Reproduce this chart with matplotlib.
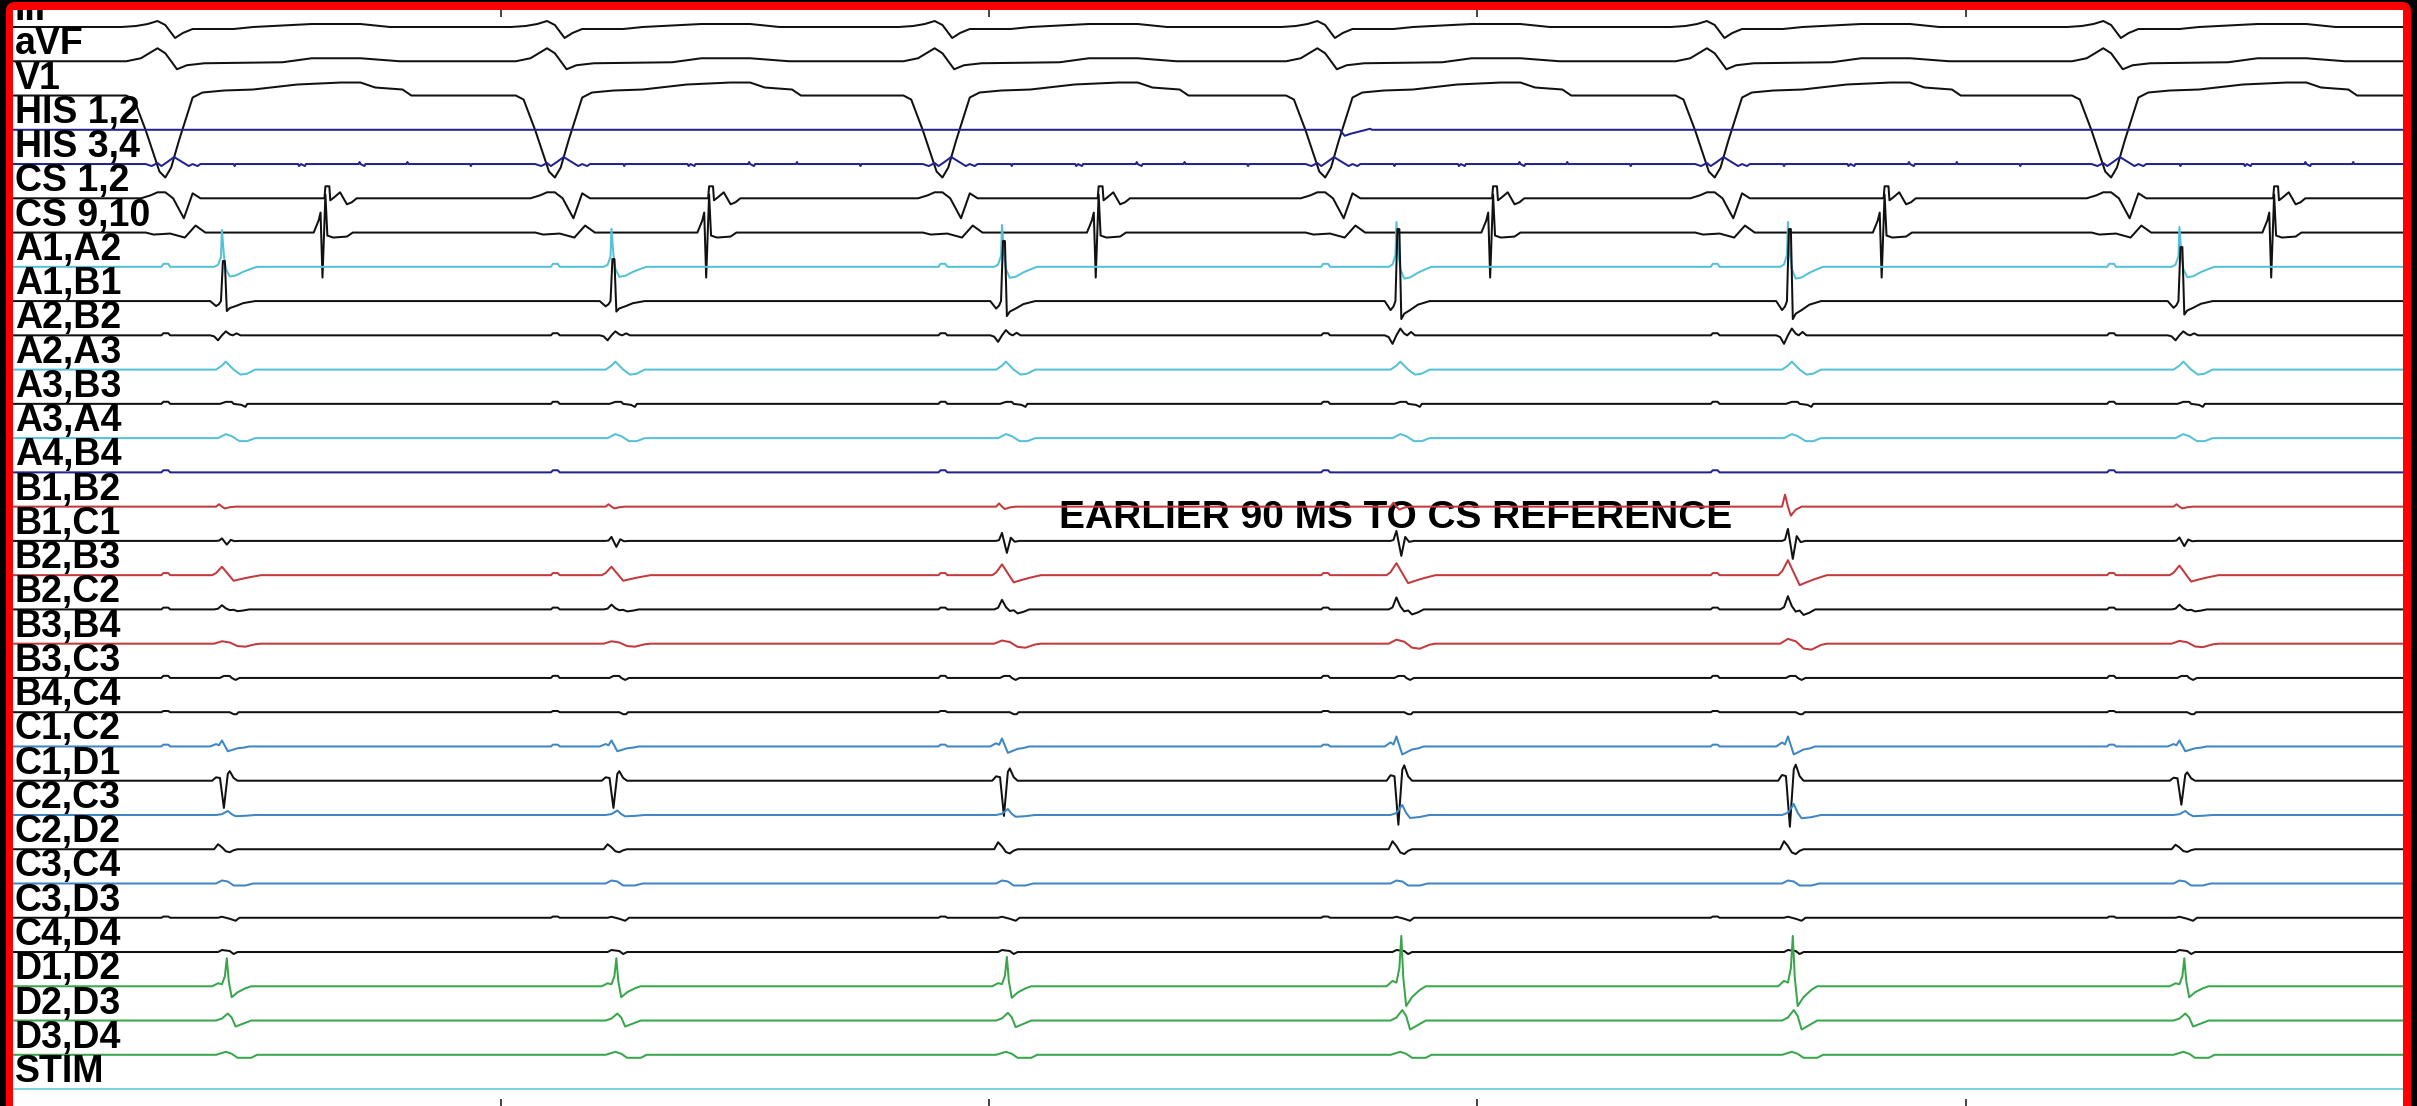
import numpy as np
import matplotlib.pyplot as plt
from matplotlib.patches import FancyBboxPatch
from matplotlib.transforms import IdentityTransform

plt.rcParams["font.family"] = ["Liberation Sans", "DejaVu Sans"]

LABELS = ["III", "aVF", "V1", "HIS 1,2", "HIS 3,4", "CS 1,2", "CS 9,10",
          "A1,A2", "A1,B1", "A2,B2", "A2,A3", "A3,B3", "A3,A4", "A4,B4",
          "B1,B2", "B1,C1", "B2,B3", "B2,C2", "B3,B4", "B3,C3", "B4,C4",
          "C1,C2", "C1,D1", "C2,C3", "C2,D2", "C3,C4", "C3,D3", "C4,D4",
          "D1,D2", "D2,D3", "D3,D4", "STIM"]

# sweep timing (ms)
SWEEP_MS = 2448
TICKS_MS = [500, 1000, 1500, 2000]
V_TIMES = [156, 555, 952, 1344, 1743, 2149]      # surface QRS, V1 nadir
MAP_TIMES = [214, 613, 1013, 1417, 1818, 2219]   # mapping catheter activation
CS_TIMES = [320, 713, 1112, 1516, 1917, 2316]    # CS reference spike

# waveform shapes: (offset ms, deflection, + is up)
III_QRS = [(-45, 0), (-30, 1), (-18, 3), (-8, 6), (0, 2), (10, -11), (18, -6),
           (28, -2), (70, -2), (90, 0), (150, 3), (200, 3), (230, 0)]
AVF_QRS = [(-40, 0), (-25, 3), (-8, 13), (0, 8), (12, -8), (22, -4), (40, -2),
           (120, -1), (150, 3), (200, 3), (240, 0)]
V1_QRS = [(-40, 0), (-32, -4), (-20, -35), (-6, -76), (0, -82), (6, -72),
          (14, -45), (28, -2), (38, 3), (60, 5), (90, 6), (135, 11), (180, 13),
          (200, 13), (215, 8), (243, 6), (252, 0)]
HIS12_QRS = [(15, 0), (20, -6), (26, -4), (34, -2), (46, 1), (48, 0)]
HIS34_QRS = [(-20, 0), (-14, -2), (-8, 1), (-4, -2), (2, 2), (9, 7), (14, 4),
             (19, 1), (24, -2), (28, 0), (33, -2), (36, 0), (70, 0), (71, -2),
             (72, 0), (136, 0), (137, -2), (139, 0), (143, -2), (144, 0),
             (198, 0), (199, 2), (200, 0), (204, -2), (205, 0), (247, 0),
             (248, 2), (249, 0), (312, 0), (313, -2), (314, 0)]
CS12_QRS = [(-25, 0), (-15, 3), (-8, 6), (0, 6), (8, 0), (19, -20), (28, 5), (36, 0)]
CS12_REF = [(-1, 0), (0, 12), (4, 12), (5, -2), (9, 1), (15, 6), (22, -6),
            (27, -4), (32, 0)]
CS910_QRS = [(-20, 0), (-12, -2), (5, -1), (20, -5), (31, 7), (41, 0)]
CS910_REF = [(-12, 0), (-7, 12), (-5, 20), (-3, -45), (0, 38), (2, -3), (8, -5),
             (22, -4), (28, 0)]
FAR_FIELD = [(-4, 0), (-2, 3), (3, 3), (5, 0)]

A1A2 = [(-8, 0), (-4, 2), (-1, 10), (0, 38), (2, 12), (4, -2), (8, -10),
        (14, -9), (22, -5), (30, -2), (36, 0)]
A1B1 = [(-12, 0), (-6, -5), (-3, -3), (-1, 0), (1, 40), (3, 40), (5, -10),
        (8, -7), (14, -5), (22, -2), (34, 0)]
A2B2 = [(-12, 0), (-8, -1), (-4, -5), (0, 0), (4, 4), (8, 1), (11, 0), (15, 2), (19, 0)]
A2A3 = [(-6, 0), (0, 4), (4, 8), (8, 4), (12, 0), (19, -5), (26, -4), (34, 0)]
A3B3 = [(-2, 0), (4, 2), (10, 2), (12, 0), (20, -1), (24, -3), (26, 0)]
A3A4 = [(-4, 0), (4, 4), (10, 2), (18, -3), (26, -3), (34, 0)]
B1B2 = [(-6, 0), (-3, 4), (0, 0), (3, -3), (8, -1), (14, 0)]
B1C1 = [(-6, 0), (-3, 1), (0, 10), (5, -15), (9, 4), (13, -1), (18, 0)]
B2B3 = [(-10, 0), (-6, 3), (0, 12), (6, 2), (12, -8), (18, -6), (28, -3), (40, 0)]
B2C2 = [(-8, 0), (-4, 2), (0, 12), (4, 3), (8, -2), (12, -1), (16, -5), (22, -3), (28, 0)]
B3B4 = [(-8, 0), (0, 4), (8, 2), (16, -4), (24, -5), (34, -1), (40, 0)]
B3C3 = [(-2, 0), (2, 2), (8, 2), (10, 0), (14, -2), (18, 0)]
B4C4 = [(8, 0), (12, -2), (15, -2), (17, 0)]
C1C2 = [(-12, 0), (-6, 4), (-3, 2), (0, 10), (6, -8), (10, -6), (16, -3), (22, -2), (28, 0)]
C1D1 = [(-10, 0), (-6, 5), (-2, 4), (2, -40), (6, 10), (8, 14), (12, 4), (16, 0)]
C2C3 = [(-6, 0), (0, 2), (6, 10), (10, 2), (14, -3), (24, -2), (34, 0)]
C2D2 = [(-8, 0), (-4, 5), (0, 2), (4, -2), (8, -3), (12, -1), (16, 0)]
C3C4 = [(-6, 0), (0, 3), (6, 2), (12, -2), (24, -2), (32, 0)]
C3D3 = [(-4, 0), (0, 1), (8, -1), (14, -3), (18, 0)]
C4D4 = [(-4, 0), (0, 2), (8, 1), (12, -2), (16, 0)]
D1D2 = [(-10, 0), (-4, 3), (0, 2), (3, 10), (5, 28), (7, 5), (10, -11), (16, -6),
        (24, -2), (30, 0)]
D2D3 = [(-6, 0), (0, 2), (6, 7), (10, 3), (14, -6), (22, -3), (30, 0)]
D3D4 = [(-6, 0), (4, 3), (10, 1), (16, -3), (30, -3), (36, 0)]

# beat-to-beat amplitude scaling
HIS12_GAIN = [0, 0, 0, 1, 0, 0]
A1A2_GAIN = [0.97, 1.0, 1.1, 1.18, 1.18, 1.05]
A1B1_GAIN = [1.0, 1.05, 1.5, 1.8, 1.8, 1.35]
A2B2_GAIN = [1, 1, 1.3, 1.7, 1.7, 1]
B1B2_GAIN = [0.6, 0.6, 0.8, 1, 3, 0.6]
B1C1_GAIN = [0.25, 0.4, 0.8, 1, 1.2, 0.35]
B2B3_GAIN = [0.7, 0.7, 0.9, 1, 1.25, 0.8]
B2C2_GAIN = [0.35, 0.4, 0.8, 1, 1.1, 0.4]
B3B4_GAIN = [0.6, 0.6, 0.8, 1, 1.2, 0.7]
C1C2_GAIN = [0.6, 0.6, 0.8, 1, 1, 0.6]
C1D1_GAIN = [0.68, 0.68, 0.88, 1.1, 1.15, 0.6]
C2C3_GAIN = [0.4, 0.45, 0.6, 1, 1.1, 0.4]
C2D2_GAIN = [1, 1, 1.4, 1.6, 1.6, 0.9]
D1D2_GAIN = [1, 1, 1.05, 1.8, 1.8, 1]
D2D3_GAIN = [1, 1, 1.1, 1.5, 1.5, 1]
FAR_FIELD_GAIN = {7: 1.0, 9: 0.7, 11: 0.7, 13: 0.7, 16: 0.7, 17: 0.6,
                  19: 0.7, 20: 0.4, 21: 0.6, 26: 0.4}

BLACK, NAVY, CYAN, RED = "#111111", "#22228c", "#55c1d6", "#c23a3c"
BLUE, GREEN, STIM_CYAN = "#3f86c2", "#3aa64c", "#7fd3de"
COLORS = [BLACK, BLACK, BLACK, NAVY, NAVY, BLACK, BLACK,
          CYAN, BLACK, BLACK, CYAN, BLACK, CYAN, NAVY,
          RED, BLACK, RED, BLACK, RED, BLACK, BLACK,
          BLUE, BLACK, BLUE, BLACK, BLUE, BLACK, BLACK,
          GREEN, GREEN, GREEN, STIM_CYAN]

EVENTS = {
    0: [(V_TIMES, III_QRS, None)],
    1: [(V_TIMES, AVF_QRS, None)],
    2: [(V_TIMES, V1_QRS, None)],
    3: [(V_TIMES, HIS12_QRS, HIS12_GAIN)],
    4: [(V_TIMES, HIS34_QRS, None)],
    5: [(V_TIMES, CS12_QRS, None), (CS_TIMES, CS12_REF, None)],
    6: [(V_TIMES, CS910_QRS, None), (CS_TIMES, CS910_REF, None)],
    7: [(MAP_TIMES, A1A2, A1A2_GAIN)],
    8: [(MAP_TIMES, A1B1, A1B1_GAIN)],
    9: [(MAP_TIMES, A2B2, A2B2_GAIN)],
    10: [(MAP_TIMES, A2A3, None)],
    11: [(MAP_TIMES, A3B3, None)],
    12: [(MAP_TIMES, A3A4, None)],
    13: [],
    14: [(MAP_TIMES, B1B2, B1B2_GAIN)],
    15: [(MAP_TIMES, B1C1, B1C1_GAIN)],
    16: [(MAP_TIMES, B2B3, B2B3_GAIN)],
    17: [(MAP_TIMES, B2C2, B2C2_GAIN)],
    18: [(MAP_TIMES, B3B4, B3B4_GAIN)],
    19: [(MAP_TIMES, B3C3, None)],
    20: [(MAP_TIMES, B4C4, None)],
    21: [(MAP_TIMES, C1C2, C1C2_GAIN)],
    22: [(MAP_TIMES, C1D1, C1D1_GAIN)],
    23: [(MAP_TIMES, C2C3, C2C3_GAIN)],
    24: [(MAP_TIMES, C2D2, C2D2_GAIN)],
    25: [(MAP_TIMES, C3C4, None)],
    26: [(MAP_TIMES, C3D3, None)],
    27: [(MAP_TIMES, C4D4, None)],
    28: [(MAP_TIMES, D1D2, D1D2_GAIN)],
    29: [(MAP_TIMES, D2D3, D2D3_GAIN)],
    30: [(MAP_TIMES, D3D4, None)],
    31: [],
}

NOTE = "EARLIER 90 MS TO CS REFERENCE"
NOTE_AT_MS = 1071

# page geometry in output pixels
W, H = 2417, 1106
PLOT_L, PLOT_R, PLOT_T = 13, 2403, 10
ROW0, PITCH = 27.0, 34.26


def build_trace(events):
    pts = [(0.0, 0.0), (float(SWEEP_MS), 0.0)]
    for times, shape, gains in events:
        gains = gains if gains is not None else [1.0] * len(times)
        for t0, g in zip(times, gains):
            pts += [(t0 + dt, amp * g) for dt, amp in shape]
    pts.sort()
    x, a = np.array(pts).T
    return x, a


fig = plt.figure(figsize=(W / 100, H / 100), dpi=100, facecolor="black")

# red rounded frame behind the white recording area
frame = FancyBboxPatch((6, -30), 2405, H - 2 + 30,
                       boxstyle="round,pad=0,rounding_size=9",
                       transform=IdentityTransform(), facecolor="#ff0000",
                       edgecolor="none", zorder=-10)
fig.add_artist(frame)

ax = fig.add_axes([PLOT_L / W, 0, (PLOT_R - PLOT_L) / W, (H - PLOT_T) / H])
ax.set_zorder(5)
ax.set_facecolor("white")
ax.set_xlim(0, SWEEP_MS)
ax.set_ylim(H, PLOT_T)
for s in ax.spines.values():
    s.set_visible(False)
ax.set_yticks([])
ax.set_xticks(TICKS_MS)
ax.tick_params(axis="x", which="both", direction="in", top=True, bottom=True,
               length=5, width=1.2, color="#222222",
               labelbottom=False, labeltop=False)

for i, label in enumerate(LABELS):
    base = ROW0 + PITCH * i
    events = list(EVENTS[i])
    if i in FAR_FIELD_GAIN:
        events.append((V_TIMES, FAR_FIELD, [FAR_FIELD_GAIN[i]] * len(V_TIMES)))
    x, a = build_trace(events)
    ax.plot(x, base - a, color=COLORS[i], lw=1.45, zorder=3)
    ax.text(2, base - 7, label, ha="left", va="baseline", fontsize=27,
            fontweight="bold", color="black", clip_on=True, zorder=4)

ax.text(NOTE_AT_MS, 528, NOTE, ha="left", va="baseline", fontsize=28,
        fontweight="bold", color="black", zorder=2)

fig.savefig("out.png", dpi=100, facecolor="black")
